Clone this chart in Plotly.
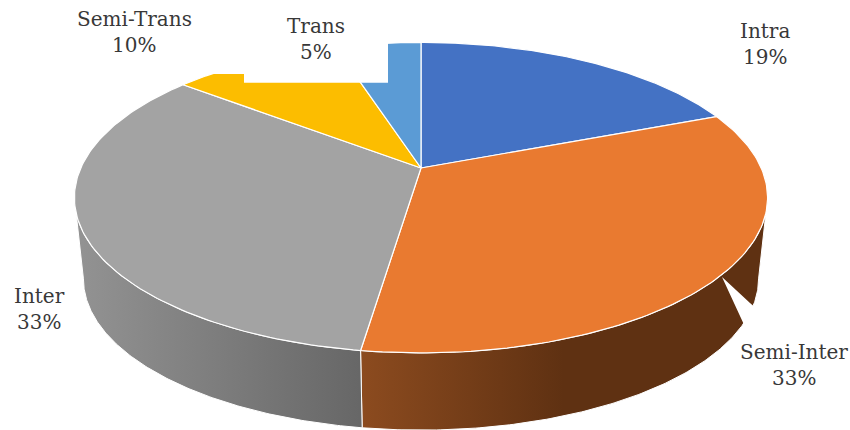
import numpy as np
import plotly.graph_objects as go

categories = ["Intra", "Semi-Inter", "Inter", "Semi-Trans", "Trans"]
shares = [19.0, 33.3, 33.4, 9.5, 4.8]
colors = ["#4472C4", "#E97A30", "#A3A3A3", "#FCBD00", "#5B9BD5"]

WIDTH, HEIGHT = 850, 430
APEX_X, APEX_Y = 421.0, 168.0
A, B, K = 340.2, 149.6, 0.191   # perspective disc
SCALE_LOW, DROP = 0.974, 82.0   # lower rim of the disc


def project(deg, lower=False):
    t = np.radians(np.asarray(deg, dtype=float))
    u, v = np.sin(t), np.cos(t)
    w = 1 + K * v
    s = SCALE_LOW if lower else 1.0
    return APEX_X + s * A * u / w, APEX_Y + (DROP if lower else 0) - s * B * v / w


edges = np.cumsum([0] + shares) * 3.6
sil_right = np.degrees(np.arccos(-K))
sil_left = 360 - sil_right

fig = go.Figure()


def wall(t0, t1, gradient):
    th = np.linspace(t0, t1, 160)
    x1, y1 = project(th)
    x2, y2 = project(th[::-1], lower=True)
    fig.add_trace(go.Scatter(
        x=np.r_[x1, x2, x1[0]], y=np.r_[y1, y2, y1[0]], mode="lines",
        line=dict(color="white", width=1), fill="toself", fillgradient=gradient,
        hoverinfo="skip", showlegend=False))


# Outer walls of the two front slices
wall(sil_right, edges[2], dict(type="horizontal", start=360, stop=767,
     colorscale=[[0, "#8C4B1F"], [0.5, "#5F3112"], [1, "#5F3112"]]))
wall(edges[2], sil_left, dict(type="horizontal", start=75, stop=360,
     colorscale=[[0, "#939393"], [1, "#676767"]]))

# Top faces
for i, name in enumerate(categories):
    th = np.linspace(edges[i], edges[i + 1], 120)
    x, y = project(th)
    fig.add_trace(go.Scatter(
        x=np.r_[APEX_X, x, APEX_X], y=np.r_[APEX_Y, y, APEX_Y], mode="lines",
        line=dict(color="white", width=1.2), fill="toself", fillcolor=colors[i],
        name=name, hoverinfo="skip", showlegend=False))

# White label backgrounds that cut into the pie
shapes = [
    dict(type="rect", x0=0, x1=244, y0=0, y1=74),
    dict(type="rect", x0=244, x1=388, y0=0, y1=82.7),
    dict(type="path", path="M722,277 L750,303 L775,325 L746,329 Z"),
]
for s in shapes:
    s.update(xref="x", yref="y", fillcolor="white", line=dict(width=0), layer="above")

label_pos = [(765, 31), (794, 352), (39, 296), (134, 19), (316, 26)]
annotations = []
for name, val, (lx, ly) in zip(categories, shares, label_pos):
    for text, yy in ((name, ly), (f"{round(val)}%", ly + 25.5)):
        annotations.append(dict(x=lx, y=yy, text=text, showarrow=False, xref="x", yref="y",
                                xanchor="center", yanchor="middle",
                                font=dict(family="DejaVu Serif", size=20, color="#383838")))

fig.update_layout(
    width=WIDTH, height=HEIGHT, margin=dict(l=0, r=0, t=0, b=0),
    paper_bgcolor="white", plot_bgcolor="white", showlegend=False,
    xaxis=dict(range=[0, WIDTH], visible=False, fixedrange=True),
    yaxis=dict(range=[HEIGHT, 0], visible=False, fixedrange=True),
    shapes=shapes, annotations=annotations,
)
fig.write_html("out.html", config=dict(displayModeBar=False),
               post_script="document.body.style.margin='0';document.body.style.overflow='hidden';")
